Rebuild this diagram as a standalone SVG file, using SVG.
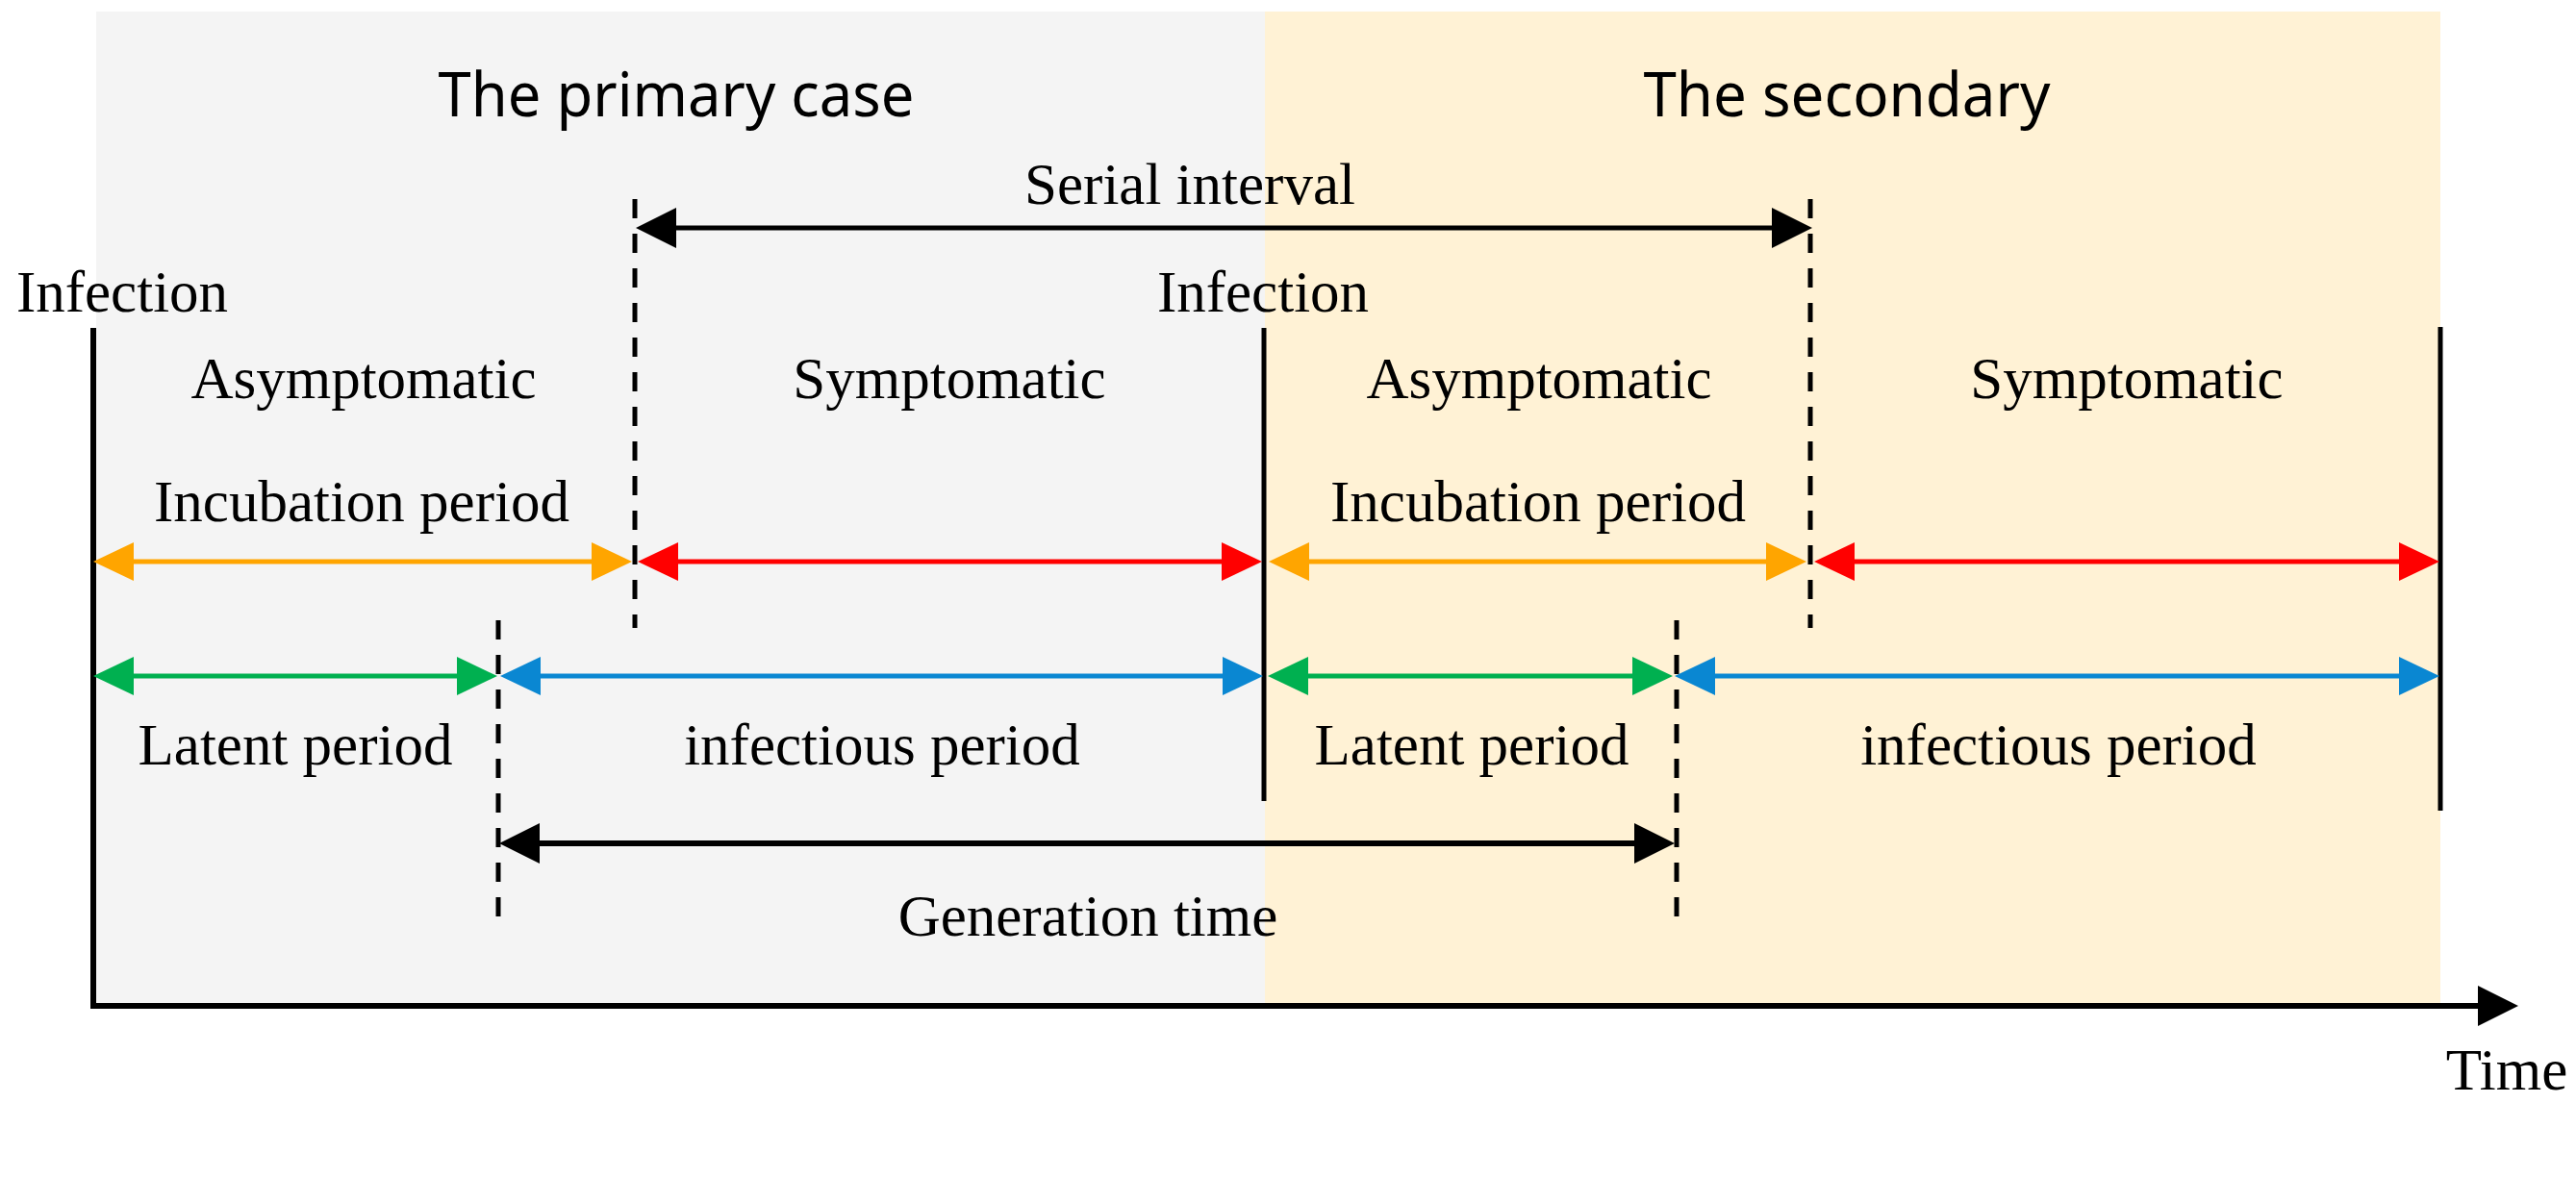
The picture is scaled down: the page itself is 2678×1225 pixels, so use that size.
<svg xmlns="http://www.w3.org/2000/svg" width="2678" height="1225" viewBox="0 0 2678 1225">
<style>
.lbl{font-family:"Liberation Serif","Times New Roman",serif;font-size:61px;fill:#000;text-anchor:middle}
.ttl{font-family:"Noto Sans","Open Sans",sans-serif;font-size:64px;fill:#000;text-anchor:middle}
.dash{stroke:#000;stroke-width:5;stroke-dasharray:20 16;fill:none}
.solid{stroke:#000;stroke-width:5;fill:none}
</style>
<defs>
<marker id="hOrange" viewBox="0 0 42 40" refX="20" refY="20" markerWidth="42" markerHeight="40" markerUnits="userSpaceOnUse" orient="auto-start-reverse"><path d="M0,0 L42,20 L0,40 z" fill="#FFA500"/></marker>
<marker id="hRed" viewBox="0 0 42 40" refX="20" refY="20" markerWidth="42" markerHeight="40" markerUnits="userSpaceOnUse" orient="auto-start-reverse"><path d="M0,0 L42,20 L0,40 z" fill="#FF0000"/></marker>
<marker id="hGreen" viewBox="0 0 42 40" refX="20" refY="20" markerWidth="42" markerHeight="40" markerUnits="userSpaceOnUse" orient="auto-start-reverse"><path d="M0,0 L42,20 L0,40 z" fill="#00B050"/></marker>
<marker id="hBlue" viewBox="0 0 42 40" refX="20" refY="20" markerWidth="42" markerHeight="40" markerUnits="userSpaceOnUse" orient="auto-start-reverse"><path d="M0,0 L42,20 L0,40 z" fill="#0A87D2"/></marker>
<marker id="hBlack" viewBox="0 0 42 42" refX="20" refY="21" markerWidth="42" markerHeight="42" markerUnits="userSpaceOnUse" orient="auto-start-reverse"><path d="M0,0 L42,21 L0,42 z" fill="#000"/></marker>
</defs>
<rect width="2678" height="1225" fill="#FFFFFF"/>
<g id="primary-case">
<rect x="100" y="12" width="1215" height="1031" fill="#F4F4F4"/>
<text class="ttl" x="703" y="121" textLength="495" lengthAdjust="spacingAndGlyphs">The primary case</text>
</g>
<g id="secondary-case">
<rect x="1315" y="12" width="1222" height="1031" fill="#FFF2D5"/>
<text class="ttl" x="1920" y="121" textLength="423" lengthAdjust="spacingAndGlyphs">The secondary</text>
</g>
<g id="labels">
<text class="lbl" x="127" y="324">Infection</text>
<text class="lbl" x="1313" y="324">Infection</text>
<text class="lbl" x="1237" y="212">Serial interval</text>
<text class="lbl" x="378" y="414">Asymptomatic</text>
<text class="lbl" x="987" y="414">Symptomatic</text>
<text class="lbl" x="1600" y="414">Asymptomatic</text>
<text class="lbl" x="2211" y="414">Symptomatic</text>
<text class="lbl" x="376" y="542">Incubation period</text>
<text class="lbl" x="1599" y="542">Incubation period</text>
<text class="lbl" x="307" y="795">Latent period</text>
<text class="lbl" x="917" y="795">infectious period</text>
<text class="lbl" x="1530" y="795">Latent period</text>
<text class="lbl" x="2140" y="795">infectious period</text>
<text class="lbl" x="1131" y="973">Generation time</text>
<text class="lbl" x="2606" y="1133">Time</text>
</g>
<g id="connectors">
<line class="dash" x1="660" y1="207" x2="660" y2="653"/>
<line class="dash" x1="1882" y1="207" x2="1882" y2="653"/>
<line class="dash" x1="518" y1="645" x2="518" y2="953"/>
<line class="dash" x1="1743" y1="645" x2="1743" y2="953"/>
<line class="solid" x1="1314" y1="341" x2="1314" y2="833"/>
<line class="solid" x1="2537" y1="340" x2="2537" y2="843"/>
<path d="M97,341 V1046 H2596" fill="none" stroke="#000" stroke-width="6" marker-end="url(#hBlack)"/>
<line x1="683" y1="237" x2="1862" y2="237" stroke="#000" stroke-width="5" marker-start="url(#hBlack)" marker-end="url(#hBlack)"/>
<line x1="541" y1="877" x2="1719" y2="877" stroke="#000" stroke-width="6" marker-start="url(#hBlack)" marker-end="url(#hBlack)"/>
<line x1="119" y1="584" x2="635" y2="584" stroke="#FFA500" stroke-width="5" marker-start="url(#hOrange)" marker-end="url(#hOrange)"/>
<line x1="685" y1="584" x2="1290" y2="584" stroke="#FF0000" stroke-width="5" marker-start="url(#hRed)" marker-end="url(#hRed)"/>
<line x1="1341" y1="584" x2="1856" y2="584" stroke="#FFA500" stroke-width="5" marker-start="url(#hOrange)" marker-end="url(#hOrange)"/>
<line x1="1908" y1="584" x2="2514" y2="584" stroke="#FF0000" stroke-width="5" marker-start="url(#hRed)" marker-end="url(#hRed)"/>
<line x1="119" y1="703" x2="495" y2="703" stroke="#00B050" stroke-width="5" marker-start="url(#hGreen)" marker-end="url(#hGreen)"/>
<line x1="542" y1="703" x2="1291" y2="703" stroke="#0A87D2" stroke-width="5" marker-start="url(#hBlue)" marker-end="url(#hBlue)"/>
<line x1="1340" y1="703" x2="1717" y2="703" stroke="#00B050" stroke-width="5" marker-start="url(#hGreen)" marker-end="url(#hGreen)"/>
<line x1="1763" y1="703" x2="2514" y2="703" stroke="#0A87D2" stroke-width="5" marker-start="url(#hBlue)" marker-end="url(#hBlue)"/>
</g>
</svg>
